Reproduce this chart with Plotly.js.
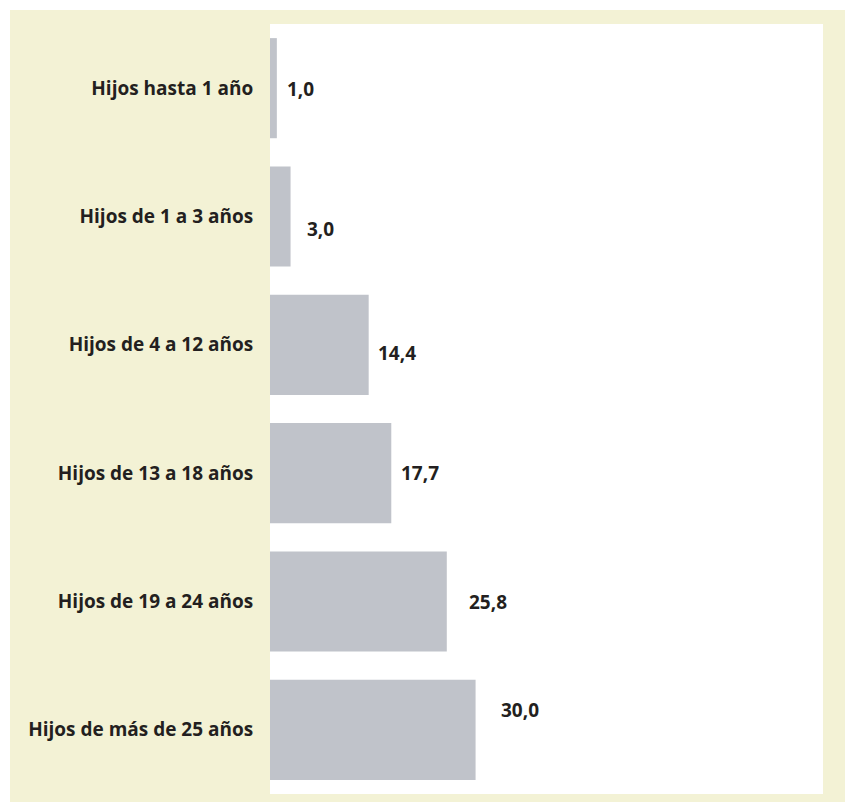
<!DOCTYPE html>
<html>
<head>
<meta charset="utf-8">
<script src="https://cdn.plot.ly/plotly-3.0.1.min.js"></script>
<style>
html,body{margin:0;padding:0;background:#ffffff;}
#wrap{position:relative;width:845px;height:802px;background:#ffffff;overflow:hidden;}
#chart{position:absolute;left:10px;top:10px;width:835px;height:792px;}
</style>
</head>
<body>
<div id="wrap"><div id="chart"></div></div>
<script>
const categories = [
  "Hijos hasta 1 año",
  "Hijos de 1 a 3 años",
  "Hijos de 4 a 12 años",
  "Hijos de 13 a 18 años",
  "Hijos de 19 a 24 años",
  "Hijos de más de 25 años"
];
const values = [1.0, 3.0, 14.4, 17.7, 25.8, 30.0];
const valueLabels = ["1,0", "3,0", "14,4", "17,7", "25,8", "30,0"];

// label placement tweaks (pixels), separate from data
const labelDx = [8, 14, 7, 8, 20, 23];
const labelDy = [-1, -12, -8, 0, 0, 20];

const textColor = "#231f20";
const font = "'Open Sans', Lato, sans-serif";

const trace = {
  type: "bar",
  orientation: "h",
  x: values,
  y: categories,
  marker: {color: "#c0c3ca"},
  hoverinfo: "none"
};

const annotations = values.map((v, i) => ({
  x: v, y: categories[i], xref: "x", yref: "y",
  text: "<b>" + valueLabels[i] + "</b>",
  showarrow: false, xanchor: "left", yanchor: "middle",
  xshift: labelDx[i], yshift: labelDy[i],
  font: {family: font, size: 19, color: textColor}
}));

const layout = {
  width: 835, height: 792,
  paper_bgcolor: "#f3f2d5",
  plot_bgcolor: "#ffffff",
  margin: {l: 260, r: 22, t: 14, b: 8},
  bargap: 0.22,
  showlegend: false,
  xaxis: {range: [0, 80.7], showgrid: false, zeroline: false, showticklabels: false, ticks: "", fixedrange: true},
  yaxis: {
    autorange: "reversed",
    showgrid: false, zeroline: false,
    ticks: "outside", ticklen: 12, tickcolor: "rgba(0,0,0,0)",
    tickfont: {family: font, size: 19, color: textColor, weight: "bold"},
    fixedrange: true
  },
  annotations: annotations
};

Plotly.newPlot("chart", [trace], layout, {displayModeBar: false, staticPlot: true});
</script>
</body>
</html>
